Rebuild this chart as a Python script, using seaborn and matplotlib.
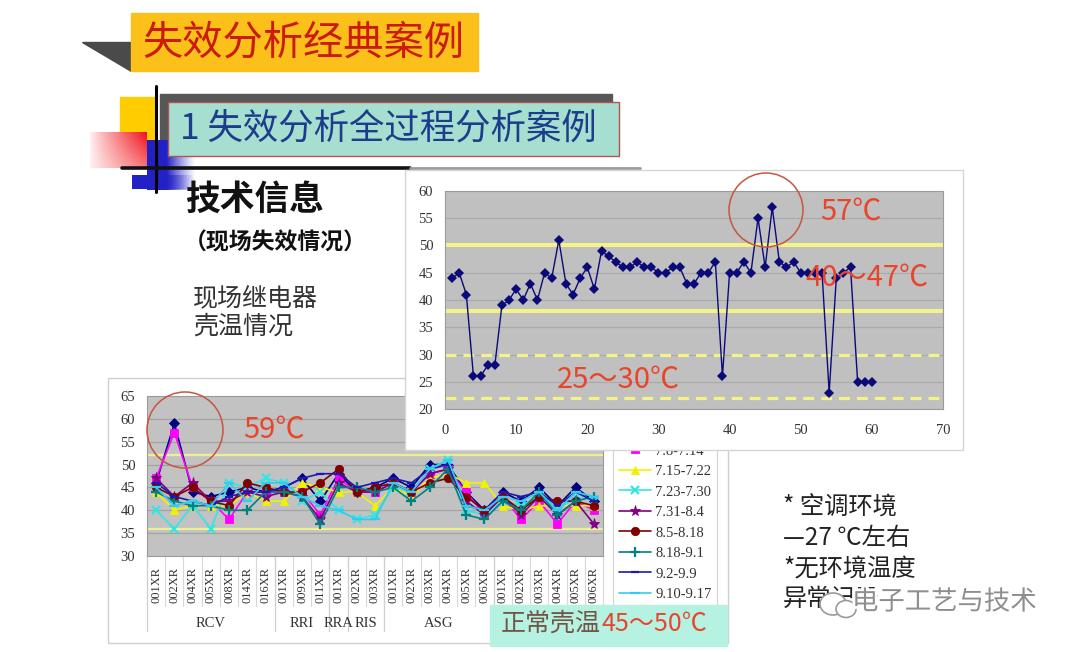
import numpy as np
import pandas as pd
import matplotlib
matplotlib.use("Agg")
import matplotlib.pyplot as plt
import matplotlib.patheffects as pe
from matplotlib.patches import Rectangle, Polygon, Circle, Ellipse
import seaborn as sns

# ---------------- data ----------------
top_x = list(range(1, 61))
top_temp = [44, 45, 41, 26, 26, 28, 28, 39, 40, 42, 40, 43, 40, 45, 44, 51, 43, 41, 44, 46,
            42, 49, 48, 47, 46, 46, 47, 46, 46, 45, 45, 46, 46, 43, 43, 45, 45, 47, 26, 45,
            45, 47, 45, 55, 46, 57, 47, 46, 47, 45, 45, 45, 45, 23, 44, 45, 46, 25, 25, 25]
top_xticks = [0, 10, 20, 30, 40, 50, 60, 70]
top_yticks = [20, 25, 30, 35, 40, 45, 50, 55, 60]
top_solid_levels = [50, 38]
top_dashed_levels = [30, 22]

bottom_categories = ["001XR", "002XR", "004XR", "005XR", "008XR", "014XR", "016XR",
                     "001XR", "009XR", "011XR",
                     "001XR",
                     "002XR", "003XR",
                     "001XR", "002XR", "003XR", "004XR", "005XR", "006XR",
                     "001XR", "002XR", "003XR", "004XR", "005XR", "006XR"]
group_names = ["RCV", "RRI", "RRA", "RIS", "ASG", ""]
group_sizes = [7, 3, 1, 2, 6, 6]
bottom_yticks = [30, 35, 40, 45, 50, 55, 60, 65]
bottom_levels = [52, 36]

series_names = ["7.1-7.7", "7.8-7.14", "7.15-7.22", "7.23-7.30", "7.31-8.4",
                "8.5-8.18", "8.18-9.1", "9.2-9.9", "9.10-9.17"]
s_0701 = [46, 59, 44, 43, 44, 45, 44, 45, 47, 42, 48, 44, 45, 47, 45, 50, 50, 44, 40, 44, 42, 45, 41, 45, 42]
s_0708 = [47, 57, 45, 42, 38, 44, 44, 44, 44, 39, 47, 44, 44, 46, 44, 48, 49, 44, 39, 43, 38, 42, 37, 42, 40]
s_0715 = [44, 40, 41, 41, 41, 44, 42, 42, 46, 45, 44, 44, 41, 45, 43, 47, 48, 46, 46, 41, 40, 41, 41, 41, 41]
s_0723 = [40, 36, 41, 36, 46, 45, 47, 46, 42, 44, 40, 38, 39, 45, 44, 49, 51, 40, 39, 42, 41, 43, 40, 43, 42]
s_0731 = [47, 43, 46, 42, 42, 44, 43, 44, 43, 38, 46, 44, 44, 46, 44, 48, 49, 42, 39, 43, 39, 43, 39, 42, 37]
s_0805 = [45, 43, 45, 42, 41, 46, 45, 44, 44, 46, 49, 44, 45, 46, 44, 46, 47, 43, 40, 43, 40, 43, 42, 42, 41]
s_0818 = [44, 42, 41, 41, 40, 40, 44, 44, 43, 37, 45, 45, 44, 45, 42, 45, 49, 39, 38, 42, 40, 44, 39, 42, 43]
s_0902 = [46, 43, 42, 41, 43, 44, 44, 45, 47, 48, 48, 45, 46, 47, 46, 49, 50, 41, 40, 44, 43, 44, 41, 44, 42]
s_0910 = [45, 41, 42, 41, 46, 42, 46, 46, 43, 41, 40, 38, 38, 46, 44, 49, 51, 41, 40, 43, 42, 44, 40, 44, 43]
series_values = [s_0701, s_0708, s_0715, s_0723, s_0731, s_0805, s_0818, s_0902, s_0910]

# ---------------- styles ----------------
series_colors = ["#000080", "#FF00FF", "#F2F200", "#33E6E6", "#800080",
                 "#800000", "#008080", "#1A1AB0", "#33CCEE"]
series_markers = ["D", "s", "^", "x", "*", "o", "+", "_", "_"]
series_msize = [5.5, 6, 6, 6, 8, 6, 7, 6, 7]

W, H = 1080, 652
CJK = ['Noto Sans CJK SC', 'DejaVu Sans']
SERIF = ['Liberation Serif', 'DejaVu Serif']
RED = '#E8452C'

sns.set_style("white")
plt.rcParams['font.family'] = CJK

fig = plt.figure(figsize=(W / 100, H / 100), dpi=100)
fig.patch.set_facecolor('white')


def fpos(x0, y0, x1, y1):
    return [x0 / W, 1 - y1 / H, (x1 - x0) / W, (y1 - y0) / H]


def overlay(z):
    a = fig.add_axes([0, 0, 1, 1], zorder=z)
    a.set_xlim(0, W)
    a.set_ylim(H, 0)
    a.set_axis_off()
    return a


def gradient(ax, x0, y0, x1, y1, func, z):
    nx, ny = 80, 80
    tx, ty = np.meshgrid(np.linspace(0, 1, nx), np.linspace(0, 1, ny))
    img = func(tx, ty)
    ax.imshow(img, extent=(x0, x1, y1, y0), aspect='auto', interpolation='bilinear', zorder=z)
    ax.set_xlim(0, W)
    ax.set_ylim(H, 0)


# ---------------- background slide ----------------
bg = overlay(0)
bg.add_patch(Polygon([(82, 42), (131, 42), (131, 71)], closed=True, color='#4A4A4A', zorder=1))
bg.add_patch(Rectangle((131, 13), 347, 58, color='#FBC11A', zorder=1))
bg.text(303, 43, "失效分析经典案例", fontsize=29, color='#CC1A0E', ha='center', va='center',
        family=CJK, zorder=2)

bg.add_patch(Rectangle((120, 97), 36, 43, color='#FFCC00', zorder=1))


def red_grad(tx, ty):
    t = np.clip(tx ** 0.9 * (1 - 0.45 * ty), 0, 1)
    img = np.zeros(tx.shape + (4,))
    img[..., 0] = 1.0 - 0.06 * t
    img[..., 1] = 0.95 - 0.88 * t
    img[..., 2] = 0.95 - 0.85 * t
    img[..., 3] = 1.0
    return img


def blue_grad(tx, ty):
    img = np.zeros(tx.shape + (4,))
    img[..., 0] = 0.13
    img[..., 1] = 0.13
    img[..., 2] = 0.78
    img[..., 3] = np.clip(np.where(tx < 0.4, 1.0, 1 - (tx - 0.4) / 0.6) ** 1.2, 0, 1)
    return img


gradient(bg, 90, 132, 147, 168, red_grad, 2)
gradient(bg, 147, 140, 196, 190, blue_grad, 3)
gradient(bg, 132, 175, 196, 189, blue_grad, 3)

bg.add_patch(Rectangle((160, 94), 452, 56, color='#575757', zorder=2))
bg.add_patch(Rectangle((168, 102), 451, 54, facecolor='#A6DFD0', edgecolor='#B05555', lw=1, zorder=3))
bg.text(180, 129, "1 失效分析全过程分析案例", fontsize=25.5, color='#1E3C8C', ha='left', va='center',
        family=CJK, zorder=4)

bg.plot([156, 156], [86, 192], color='black', lw=2.2, zorder=5)
bg.plot([122, 410], [168, 168], color='#111111', lw=2.6, zorder=5)
bg.plot([410, 640], [168, 168], color='#9A9A9A', lw=2.0, zorder=5)

bg.text(185, 199, "技术信息", fontsize=25, color='#111111', ha='left', va='center',
        weight='bold', family=CJK, zorder=4)
bg.text(184, 243, "（现场失效情况）", fontsize=16.5, color='#111111', ha='left', va='center',
        weight='bold', family=CJK, zorder=4)
bg.text(193, 298, "现场继电器", fontsize=18, color='#333333', ha='left', va='center', family=CJK, zorder=4)
bg.text(193, 327, "壳温情况", fontsize=18, color='#333333', ha='left', va='center', family=CJK, zorder=4)

for txt, yy in [("* 空调环境", 508), ("—27 ℃左右", 538), ("*无环境温度", 569), ("异常记录", 599)]:
    bg.text(783, yy, txt, fontsize=17.5, color='#222222', ha='left', va='center', family=CJK, zorder=4)

# bottom chart frame
bg.add_patch(Rectangle((108, 378), 620, 265, facecolor='white', edgecolor='#CFCFCF', lw=1, zorder=6))

# ---------------- bottom chart ----------------
ax_bot = fig.add_axes(fpos(147, 396, 603, 556), zorder=1)
ax_bot.set_facecolor('#C2C2C2')
idx = np.arange(len(bottom_categories))
for v in bottom_yticks[1:-1]:
    ax_bot.axhline(v, color='#A3A3A3', lw=0.9, zorder=0.5)
for v in bottom_levels:
    ax_bot.axhline(v, color='#EEEE9A', lw=1.7, zorder=1)

for name, vals, col, mk, ms in zip(series_names, series_values, series_colors, series_markers, series_msize):
    sns.lineplot(x=idx, y=vals, ax=ax_bot, color=col, lw=1.2, marker=mk, markersize=ms,
                 markeredgewidth=1.6 if mk in ("x", "+", "_") else 0.6,
                 markeredgecolor=col, label=name, zorder=3)

ax_bot.set_xlim(-0.5, len(bottom_categories) - 0.5)
ax_bot.set_ylim(30, 65)
ax_bot.set_yticks(bottom_yticks)
ax_bot.set_yticklabels([str(v) for v in bottom_yticks], family=SERIF, fontsize=10.5, color='#333333')
ax_bot.set_xticks(idx)
ax_bot.set_xticklabels(bottom_categories, rotation=90, family=SERIF, fontsize=9, color='#333333')
ax_bot.tick_params(axis='both', length=0)
ax_bot.tick_params(axis='y', pad=8.5)
ax_bot.tick_params(axis='x', pad=8)
ax_bot.set_xlabel("")
ax_bot.set_ylabel("")
for sp in ax_bot.spines.values():
    sp.set_color('#9A9A9A')
    sp.set_linewidth(0.8)

trans = ax_bot.get_xaxis_transform()
for b in np.arange(-0.5, len(bottom_categories), 1.0):
    ax_bot.plot([b, b], [0, -0.31], transform=trans, color='#D8D8D8', lw=0.8, clip_on=False, zorder=1)
start = 0
for gname, gsize in zip(group_names, group_sizes):
    left = start - 0.5
    ax_bot.plot([left, left], [0, -0.47], transform=trans, color='#CFCFCF', lw=0.9, clip_on=False)
    if gname:
        ax_bot.text(start + (gsize - 1) / 2, -0.42, gname, transform=trans, ha='center', va='center',
                    family=SERIF, fontsize=10.5, color='#333333')
    start += gsize

leg = ax_bot.legend(loc='upper left', bbox_to_anchor=(613 / W, 1 - 418 / H), bbox_transform=fig.transFigure,
                    prop={'family': SERIF, 'size': 10.5}, frameon=True, fancybox=False, edgecolor='#C8C8C8',
                    borderpad=0.4, handlelength=2.2, handletextpad=0.3, labelspacing=0.5, borderaxespad=0)
leg.get_frame().set_linewidth(0.8)
for t in leg.get_texts():
    t.set_color('#333333')

# ---------------- top chart frame ----------------
mid = overlay(2)
mid.add_patch(Rectangle((405, 170), 558, 280, facecolor='white', edgecolor='#D5D5D5', lw=1, zorder=1))

# ---------------- top chart ----------------
ax_top = fig.add_axes(fpos(445, 191, 943, 409), zorder=3)
ax_top.set_facecolor('#C0C0C0')
for v in top_yticks[1:-1]:
    ax_top.axhline(v, color='#AAAAAA', lw=0.9, zorder=0.5)
for v in top_solid_levels:
    ax_top.axhline(v, color='#F3F38A', lw=2.9, zorder=1)
for v in top_dashed_levels:
    ax_top.axhline(v, color='#F3F38A', lw=2.3, ls=(0, (3.4, 2.2)), zorder=1)
sns.lineplot(x=top_x, y=top_temp, ax=ax_top, color='#0A0A78', lw=1.0, marker='D', markersize=4.6,
             markeredgewidth=0, legend=False, zorder=3)
ax_top.set_xlim(0, 70)
ax_top.set_ylim(20, 60)
ax_top.set_xticks(top_xticks)
ax_top.set_xticklabels([str(v) for v in top_xticks], family=SERIF, fontsize=10.5, color='#333333')
ax_top.set_yticks(top_yticks)
ax_top.set_yticklabels([str(v) for v in top_yticks], family=SERIF, fontsize=10.5, color='#333333')
ax_top.tick_params(axis='both', length=0)
ax_top.tick_params(axis='x', pad=11)
ax_top.tick_params(axis='y', pad=8.5)
ax_top.set_xlabel("")
ax_top.set_ylabel("")
for sp in ax_top.spines.values():
    sp.set_color('#9A9A9A')
    sp.set_linewidth(0.8)

# ---------------- foreground annotations ----------------
fg = overlay(4)
fg.add_patch(Circle((766, 210), 37, facecolor='none', edgecolor='#C8553F', lw=1.1))
fg.add_patch(Circle((185, 430), 38, facecolor='none', edgecolor='#C8553F', lw=1.1))
fg.text(820, 212, "57℃", fontsize=21, color=RED, ha='left', va='center', family=CJK)
fg.text(805, 278, "40～47℃", fontsize=21, color=RED, ha='left', va='center', family=CJK)
fg.text(557, 380, "25～30℃", fontsize=21, color=RED, ha='left', va='center', family=CJK)
fg.text(243, 430, "59℃", fontsize=21, color=RED, ha='left', va='center', family=CJK)

fg.add_patch(Rectangle((490, 605), 237, 41, color='#B5F2E2', zorder=1))
fg.text(501, 624, "正常壳温", fontsize=18, color='#735546', ha='left', va='center', family=CJK, zorder=2)
fg.text(601, 624, "45～50℃", fontsize=18, color=RED, ha='left', va='center', family=CJK, zorder=2)

# watermark
fg.add_patch(Ellipse((833, 604), 26, 22, facecolor='white', edgecolor='#9A9A9A', lw=1.2, zorder=3))
fg.add_patch(Ellipse((846, 609), 20, 17, facecolor='white', edgecolor='#9A9A9A', lw=1.2, zorder=3))
fg.text(852, 602, "电子工艺与技术", fontsize=19, color='#8E8E8E', ha='left', va='center', family=CJK, zorder=4,
        path_effects=[pe.withStroke(linewidth=4, foreground='white')])

fig.savefig("out.png", dpi=100, facecolor='white')
